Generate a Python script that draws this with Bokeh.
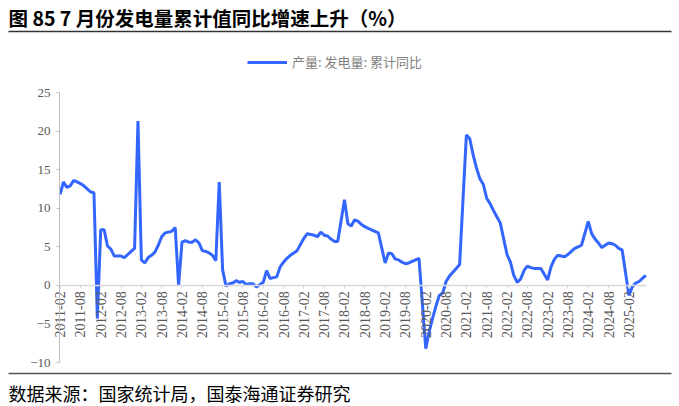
import math
from bokeh.plotting import figure
from bokeh.models import Range1d, FixedTicker, Legend, LegendItem
from bokeh.core.properties import value
from bokeh.embed import file_html
from bokeh.resources import INLINE

title_text = "图 85 7 月份发电量累计值同比增速上升（%）"
source_text = "数据来源：国家统计局，国泰海通证券研究"
series_name = "产量: 发电量: 累计同比"

months = [
    "2011-02", "2011-03", "2011-04", "2011-05", "2011-06", "2011-07", "2011-08", "2011-09", "2011-10", "2011-11", "2011-12",
    "2012-01", "2012-02", "2012-03", "2012-04", "2012-05", "2012-06", "2012-07", "2012-08", "2012-09", "2012-10", "2012-11", "2012-12",
    "2013-01", "2013-02", "2013-03", "2013-04", "2013-05", "2013-06", "2013-07", "2013-08", "2013-09", "2013-10", "2013-11", "2013-12",
    "2014-01", "2014-02", "2014-03", "2014-04", "2014-05", "2014-06", "2014-07", "2014-08", "2014-09", "2014-10", "2014-11", "2014-12",
    "2015-01", "2015-02", "2015-03", "2015-04", "2015-05", "2015-06", "2015-07", "2015-08", "2015-09", "2015-10", "2015-11", "2015-12",
    "2016-02", "2016-03", "2016-04", "2016-05", "2016-06", "2016-07", "2016-08", "2016-09", "2016-10", "2016-11", "2016-12",
    "2017-02", "2017-03", "2017-04", "2017-05", "2017-06", "2017-07", "2017-08", "2017-09", "2017-10", "2017-11", "2017-12",
    "2018-02", "2018-03", "2018-04", "2018-05", "2018-06", "2018-07", "2018-08", "2018-09", "2018-10", "2018-11", "2018-12",
    "2019-02", "2019-03", "2019-04", "2019-05", "2019-06", "2019-07", "2019-08", "2019-09", "2019-10", "2019-11", "2019-12",
    "2020-02", "2020-03", "2020-04", "2020-05", "2020-06", "2020-07", "2020-08", "2020-09", "2020-10", "2020-11", "2020-12",
    "2021-02", "2021-03", "2021-04", "2021-05", "2021-06", "2021-07", "2021-08", "2021-09", "2021-10", "2021-11", "2021-12",
    "2022-02", "2022-03", "2022-04", "2022-05", "2022-06", "2022-07", "2022-08", "2022-09", "2022-10", "2022-11", "2022-12",
    "2023-02", "2023-03", "2023-04", "2023-05", "2023-06", "2023-07", "2023-08", "2023-09", "2023-10", "2023-11", "2023-12",
    "2024-02", "2024-03", "2024-04", "2024-05", "2024-06", "2024-07", "2024-08", "2024-09", "2024-10", "2024-11", "2024-12",
    "2025-02", "2025-03", "2025-04", "2025-05", "2025-06", "2025-07",
]

values = [
    11.8, 13.4, 12.7, 12.9, 13.6, 13.4, 13.2, 12.9, 12.5, 12.1, 12.0,
    -4.3, 7.2, 7.2, 5.1, 4.7, 3.8, 3.8, 3.8, 3.6, 4.0, 4.4, 4.8,
    21.3, 3.3, 2.9, 3.6, 3.9, 4.3, 5.2, 6.3, 6.8, 6.9, 7.0, 7.5,
    0.0, 5.6, 5.8, 5.6, 5.6, 5.9, 5.5, 4.5, 4.4, 4.2, 3.9, 3.2,
    13.4, 2.0, -0.1, 0.2, 0.3, 0.6, 0.4, 0.5, 0.1, 0.2, 0.2, -0.2,
    0.4, 1.9, 0.9, 1.0, 1.1, 2.4, 3.0, 3.5, 3.9, 4.2, 4.5,
    6.1, 6.7, 6.6, 6.5, 6.3, 6.9, 6.5, 6.4, 6.0, 5.7, 5.7,
    11.1, 8.0, 7.7, 8.5, 8.3, 7.9, 7.6, 7.4, 7.2, 7.0, 6.8,
    2.9, 4.2, 4.1, 3.4, 3.3, 3.0, 2.8, 2.9, 3.1, 3.3, 3.5,
    -8.2, -6.0, -4.3, -2.7, -1.3, -1.0, 0.5, 1.2, 1.7, 2.2, 2.7,
    19.5, 19.0, 16.9, 15.2, 13.8, 13.1, 11.3, 10.6, 9.7, 8.9, 8.1,
    4.0, 3.0, 1.3, 0.4, 0.8, 1.9, 2.5, 2.3, 2.2, 2.2, 2.2,
    0.7, 2.4, 3.4, 3.9, 3.8, 3.7, 4.0, 4.4, 4.8, 5.0, 5.2,
    8.3, 6.7, 6.0, 5.5, 4.9, 5.2, 5.5, 5.4, 5.2, 4.8, 4.6,
    -1.3, -0.2, 0.3, 0.5, 0.9, 1.3,
]

tick_labels = [
    "2011-02", "2011-08", "2012-02", "2012-08", "2013-02", "2013-08", "2014-02", "2014-08",
    "2015-02", "2015-08", "2016-02", "2016-08", "2017-02", "2017-08", "2018-02", "2018-08",
    "2019-02", "2019-08", "2020-02", "2020-08", "2021-02", "2021-08", "2022-02", "2022-08",
    "2023-02", "2023-08", "2024-02", "2024-08", "2025-02",
]

y_ticks = [-10, -5, 0, 5, 10, 15, 20, 25]


def month_index(s):
    y, m = s.split("-")
    return (int(y) - 2011) * 12 + int(m) - 2


xs = [month_index(m) for m in months]
tick_pos = [month_index(t) for t in tick_labels]

# ---- layout geometry (screen pixels) ----
W, H = 679, 406
PX0 = 59.6      # screen x of first month
PPM = 3.3857    # pixels per month
PY25 = 92.0     # screen y of value 25
PPU = 7.7143    # pixels per unit


def sx(X):
    return (X - PX0) / PPM


def sy(Y):
    return 25 - (Y - PY25) / PPU


CJK = "Noto Sans CJK SC"
SERIF = "Liberation Serif"

p = figure(width=W, height=H,
           x_range=Range1d(sx(0), sx(W)), y_range=Range1d(sy(H), sy(0)),
           output_backend="svg", toolbar_location=None,
           min_border_left=0, min_border_right=0, min_border_top=0, min_border_bottom=0,
           outline_line_color=None)
p.grid.visible = False

# title + rule
p.text(x=[sx(8)], y=[sy(17)], text=[title_text], text_font=value(CJK), text_font_style="bold",
       text_font_size="19.5px", text_baseline="middle", text_align="left", text_color="#000000")
p.segment(x0=[sx(8)], y0=[sy(31)], x1=[sx(671)], y1=[sy(31)], line_color="#333333", line_width=1.5)

# bottom rule + source
p.segment(x0=[sx(8)], y0=[sy(373)], x1=[sx(671)], y1=[sy(373)], line_color="#555555", line_width=1.5)
p.text(x=[sx(8)], y=[sy(392)], text=[source_text], text_font=value(CJK), text_font_size="18px",
       text_baseline="middle", text_align="left", text_color="#000000")

# data line
r = p.line(xs, values, line_color="#3366ff", line_width=3)

xa = p.xaxis[0]
xa.fixed_location = 0
xa.bounds = (sx(59), sx(646))
xa.ticker = FixedTicker(ticks=tick_pos)
xa.major_label_overrides = {pos: lab for pos, lab in zip(tick_pos, tick_labels)}
xa.major_label_orientation = math.pi / 2
xa.minor_tick_line_color = None
xa.major_tick_in = 0
xa.major_tick_out = 3
xa.axis_line_color = "#d9d9d9"
xa.axis_line_width = 1.5
xa.major_tick_line_color = "#d9d9d9"
xa.major_label_text_font = SERIF
xa.major_label_text_font_size = "14px"
xa.major_label_text_color = "#595959"
xa.major_label_standoff = 3

ya = p.yaxis[0]
ya.fixed_location = sx(59)
ya.bounds = (-10, 25)
ya.ticker = FixedTicker(ticks=y_ticks)
ya.minor_tick_line_color = None
ya.major_tick_in = 0
ya.major_tick_out = 3
ya.axis_line_color = "#bfbfbf"
ya.major_tick_line_color = "#bfbfbf"
ya.major_label_text_font = SERIF
ya.major_label_text_font_size = "13px"
ya.major_label_text_color = "#595959"
ya.major_label_standoff = 6

legend = Legend(items=[LegendItem(label=series_name, renderers=[r])],
                location=(247, 335), orientation="horizontal",
                border_line_color=None, background_fill_alpha=0,
                padding=4, margin=0, glyph_width=40, glyph_height=14, label_height=14,
                label_standoff=5, label_text_font=CJK,
                label_text_font_size="13px", label_text_color="#7f7f7f")
p.add_layout(legend)

open("out.html", "w").write(file_html(p, INLINE))
